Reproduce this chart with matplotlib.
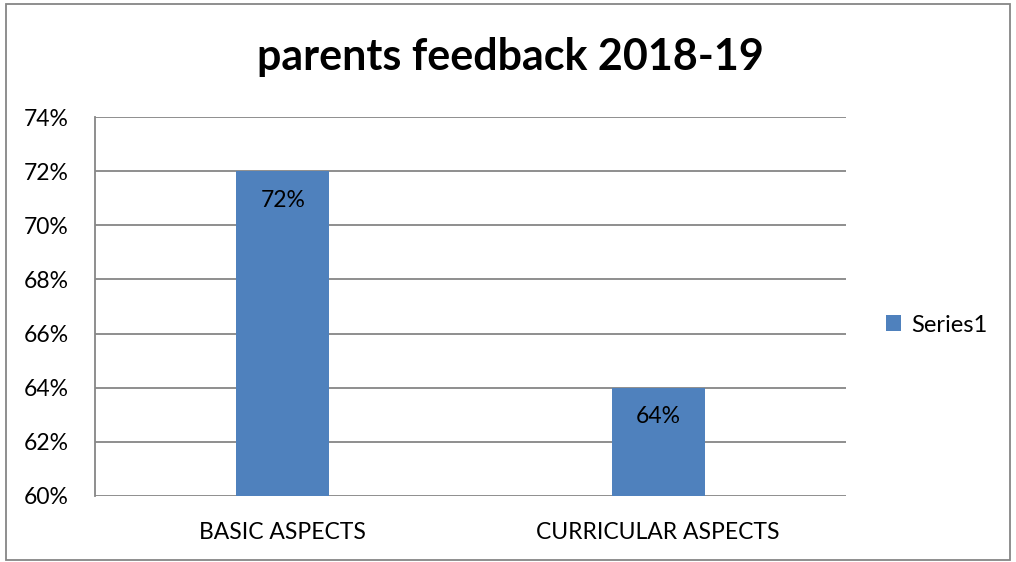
import matplotlib
matplotlib.use("Agg")
import matplotlib.pyplot as plt
from matplotlib.patches import Rectangle
from matplotlib.ticker import FuncFormatter

categories = ["BASIC ASPECTS", "CURRICULAR ASPECTS"]
values = [72, 64]
series_name = "Series1"
title = "parents feedback 2018-19"

plt.rcParams['font.family'] = ['Lato', 'DejaVu Sans']

W, H = 1016, 562
fig = plt.figure(figsize=(W / 100, H / 100), dpi=100)
fig.patch.set_facecolor("white")

ax = fig.add_axes([95 / W, 1 - 496 / H, (846 - 95) / W, (496 - 117) / H])
color = "#4F81BD"
x = list(range(len(categories)))
bars = ax.bar(x, values, width=0.248, color=color, label=series_name, zorder=3)
ax.set_xlim(-0.5, len(categories) - 0.5)
ax.set_ylim(60, 74)
ax.set_yticks(range(60, 75, 2))
ax.yaxis.set_major_formatter(FuncFormatter(lambda v, p: f"{v:.0f}%"))
ax.set_xticks(x)
ax.set_xticklabels(categories)
ax.tick_params(axis="both", length=0, labelsize=16.5, colors="black")
ax.tick_params(axis="x", pad=19)
ax.tick_params(axis="y", pad=19)
ax.grid(axis="y", color="#868686", linewidth=1.3, zorder=0)
for s in ["top", "right", "bottom"]:
    ax.spines[s].set_visible(False)
ax.spines["left"].set_color("#868686")
ax.spines["left"].set_linewidth(1.3)

for b, v in zip(bars, values):
    ax.annotate(f"{v}%", (b.get_x() + b.get_width() / 2, v), xytext=(0, -21),
                textcoords="offset points", ha="center", va="center",
                fontsize=16.5, color="black", zorder=4)

fig.text(510 / W, 1 - 57 / H, title, ha="center", va="center",
         fontsize=31, fontweight="bold", color="black")

leg = fig.legend(handles=[bars], labels=[series_name], loc="center left",
                 bbox_to_anchor=(886 / W, 1 - 325 / H), frameon=False,
                 fontsize=17, handlelength=0.65, handleheight=0.65,
                 handletextpad=0.4, borderaxespad=0, borderpad=0)

fig.patches.append(Rectangle((6 / W, 2 / H), (1010 - 6) / W, (558 - 2) / H,
                             transform=fig.transFigure, fill=False,
                             edgecolor="#868686", linewidth=1.3))

fig.savefig("out.png", dpi=100, facecolor="white")
